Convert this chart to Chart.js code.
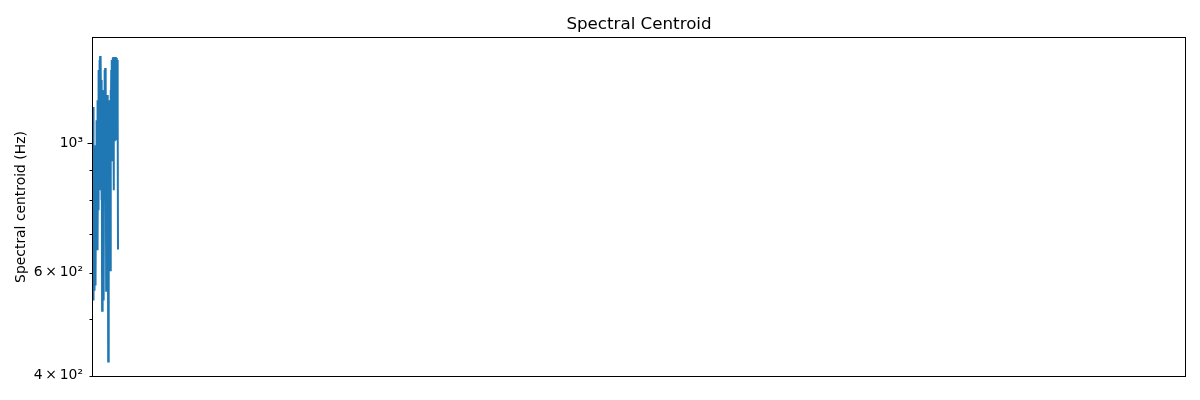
<!DOCTYPE html>
<html>
<head>
<meta charset="utf-8">
<script src="https://cdn.jsdelivr.net/npm/chart.js@4"></script>
<style>
  html, body { margin: 0; padding: 0; background: #ffffff; }
  #wrap { width: 1200px; height: 400px; position: relative; }
</style>
</head>
<body>
<div id="wrap"><canvas id="c"></canvas></div>
<script>
// Spectral centroid per frame (Hz)
const centroidHz = [
  1153, 538, 864, 973, 559, 935, 682, 992, 571, 973,
  709, 1095, 799, 1185, 656, 1139, 768, 1334, 935, 1388,
  831, 1410, 1012, 1399, 1095, 799, 1283, 517, 973, 1233,
  630, 1139, 538, 1095, 1334, 799, 1345, 864, 1308, 559,
  1139, 656, 1209, 799, 1053, 423, 973, 682, 1185, 935,
  1095, 606, 1233, 973, 1334, 1053, 1388, 935, 1399, 1139,
  1405, 831, 1334, 1012, 1388, 1185, 1405, 1053, 1377, 1095,
  1399, 1012, 1388, 1139, 658
];
// Frame index for each value
const frames = centroidHz.map((_, i) => i);
// Y tick values and labels
const yTickValues = [400, 500, 600, 700, 800, 900, 1000];
const yTickLabels = { 400: '4\u2009\u00d7\u200910\u00b2', 600: '6\u2009\u00d7\u200910\u00b2', 1000: '10\u00b3' };
const yMajorTicks = [1000];

const chartTitle = 'Spectral Centroid';
const yAxisTitle = 'Spectral centroid (Hz)';

const X_MAX = 3232;
const Y_MIN = 398;
const Y_MAX = 1520;

const FONT = "'DejaVu Sans', sans-serif";

const frameBox = {
  id: 'frameBox',
  afterDraw(chart) {
    const { ctx, chartArea: a, scales } = chart;
    ctx.save();
    ctx.strokeStyle = '#000';
    ctx.lineWidth = 1;
    ctx.strokeRect(Math.round(a.left) - 0.5, Math.round(a.top) + 0.5,
                   Math.round(a.right - a.left) + 1, Math.round(a.bottom - a.top) - 1);
    const ys = scales.y;
    ys.ticks.forEach(t => {
      const py = Math.round(ys.getPixelForValue(t.value)) + 0.5;
      const len = yMajorTicks.includes(t.value) ? 5 : 3;
      ctx.beginPath();
      ctx.moveTo(Math.round(a.left) - 0.5 - len, py);
      ctx.lineTo(Math.round(a.left) - 0.5, py);
      ctx.stroke();
    });
    // title centred over the plot area
    ctx.fillStyle = '#000';
    ctx.font = "16.7px " + FONT;
    ctx.textAlign = 'center';
    ctx.textBaseline = 'alphabetic';
    ctx.fillText(chartTitle, (a.left + a.right) / 2, 29);
    ctx.restore();
  }
};

new Chart(document.getElementById('c'), {
  type: 'line',
  data: {
    datasets: [{
      data: centroidHz.map((v, i) => ({ x: frames[i], y: v })),
      borderColor: '#1f77b4',
      borderWidth: 2,
      pointRadius: 0,
      tension: 0,
      fill: false
    }]
  },
  options: {
    responsive: true,
    maintainAspectRatio: false,
    animation: false,
    devicePixelRatio: 1,
    layout: { padding: { left: 0, right: 15, top: 37, bottom: 23 } },
    plugins: {
      legend: { display: false },
      tooltip: { enabled: false },
      title: { display: false }
    },
    scales: {
      x: {
        type: 'linear',
        min: 0,
        max: X_MAX,
        display: false
      },
      y: {
        type: 'logarithmic',
        min: Y_MIN,
        max: Y_MAX,
        border: { display: false },
        grid: { display: false, drawTicks: false },
        afterBuildTicks(scale) {
          scale.ticks = yTickValues.map(v => ({ value: v }));
        },
        afterFit(scale) { scale.width = 93; },
        ticks: {
          autoSkip: false,
          padding: 10,
          color: '#000',
          font: { family: FONT, size: 13.9 },
          callback: (v) => yTickLabels[v] || ''
        },
        title: {
          display: true,
          text: yAxisTitle,
          color: '#000',
          font: { family: FONT, size: 13.9 },
          padding: { top: 13, bottom: 0 }
        }
      }
    }
  },
  plugins: [frameBox]
});
</script>
</body>
</html>
